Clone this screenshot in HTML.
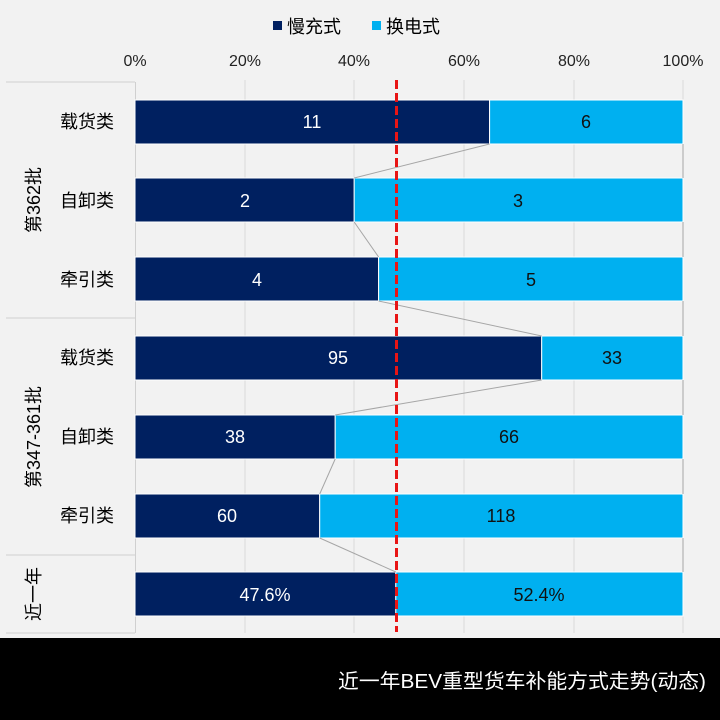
<!DOCTYPE html>
<html><head><meta charset="utf-8"><style>
html,body{margin:0;padding:0;background:#f2f2f2}
svg{display:block}
text{font-family:"Liberation Sans","Noto Sans CJK SC",sans-serif}
</style></head><body>
<svg width="720" height="720" viewBox="0 0 720 720">
<rect width="720" height="720" fill="#f2f2f2"/>
<rect x="273" y="21" width="9" height="9" fill="#002060"/>
<text x="287" y="33" font-size="18" fill="#000">慢充式</text>
<rect x="372" y="21" width="9" height="9" fill="#00b0f0"/>
<text x="386" y="33" font-size="18" fill="#000">换电式</text>
<g font-size="16" fill="#222" text-anchor="middle">
<text x="135" y="66">0%</text><text x="245" y="66">20%</text><text x="354" y="66">40%</text>
<text x="464" y="66">60%</text><text x="574" y="66">80%</text><text x="683" y="66">100%</text>
</g>
<g stroke="#d9d9d9" stroke-width="1">
<line x1="245" y1="80" x2="245" y2="633"/><line x1="354" y1="80" x2="354" y2="633"/>
<line x1="464" y1="80" x2="464" y2="633"/><line x1="574" y1="80" x2="574" y2="633"/>
<line x1="683" y1="80" x2="683" y2="633"/>
</g>
<g stroke="#d0d0d0" stroke-width="1">
<line x1="135.5" y1="82" x2="135.5" y2="633"/>
<line x1="6" y1="82" x2="135" y2="82"/>
<line x1="6" y1="318" x2="135" y2="318"/>
<line x1="6" y1="555" x2="135" y2="555"/>
<line x1="6" y1="633" x2="135" y2="633"/>
</g>
<g font-size="18" fill="#000" text-anchor="middle">
<text x="87" y="128">载货类</text><text x="87" y="207">自卸类</text><text x="87" y="286">牵引类</text>
<text x="87" y="364">载货类</text><text x="87" y="443">自卸类</text><text x="87" y="522">牵引类</text>
<text transform="translate(40,200) rotate(-90)">第362批</text>
<text transform="translate(40,437) rotate(-90)">第347-361批</text>
<text transform="translate(40,594) rotate(-90)">近一年</text>
</g>
<g stroke="#fff" stroke-width="1">
<rect x="135" y="100" width="354.6" height="44" fill="#002060"/><rect x="489.6" y="100" width="193.4" height="44" fill="#00b0f0"/>
<rect x="135" y="178" width="219.2" height="44" fill="#002060"/><rect x="354.2" y="178" width="328.8" height="44" fill="#00b0f0"/>
<rect x="135" y="257" width="243.6" height="44" fill="#002060"/><rect x="378.6" y="257" width="304.4" height="44" fill="#00b0f0"/>
<rect x="135" y="336" width="406.7" height="44" fill="#002060"/><rect x="541.7" y="336" width="141.3" height="44" fill="#00b0f0"/>
<rect x="135" y="415" width="200.2" height="44" fill="#002060"/><rect x="335.2" y="415" width="347.8" height="44" fill="#00b0f0"/>
<rect x="135" y="494" width="184.7" height="44" fill="#002060"/><rect x="319.7" y="494" width="363.3" height="44" fill="#00b0f0"/>
<rect x="135" y="572" width="260.8" height="44" fill="#002060"/><rect x="395.8" y="572" width="287.2" height="44" fill="#00b0f0"/>
</g>
<g stroke="#a6a6a6" stroke-width="1">
<line x1="489.6" y1="144" x2="354.2" y2="178"/><line x1="683" y1="144" x2="683" y2="178"/>
<line x1="354.2" y1="222" x2="378.6" y2="257"/><line x1="683" y1="222" x2="683" y2="257"/>
<line x1="378.6" y1="301" x2="541.7" y2="336"/><line x1="683" y1="301" x2="683" y2="336"/>
<line x1="541.7" y1="380" x2="335.2" y2="415"/><line x1="683" y1="380" x2="683" y2="415"/>
<line x1="335.2" y1="459" x2="319.7" y2="494"/><line x1="683" y1="459" x2="683" y2="494"/>
<line x1="319.7" y1="538" x2="395.8" y2="572"/><line x1="683" y1="538" x2="683" y2="572"/>
</g>
<g font-size="18" text-anchor="middle">
<g fill="#fff">
<text x="312" y="128">11</text><text x="245" y="207">2</text><text x="257" y="286">4</text>
<text x="338" y="364">95</text><text x="235" y="443">38</text><text x="227" y="522">60</text>
<text x="265" y="601">47.6%</text>
</g>
<g fill="#111">
<text x="586" y="128">6</text><text x="518" y="207">3</text><text x="531" y="286">5</text>
<text x="612" y="364">33</text><text x="509" y="443">66</text><text x="501" y="522">118</text>
<text x="539" y="601">52.4%</text>
</g>
</g>
<line x1="396.5" y1="80" x2="396.5" y2="632" stroke="#e81515" stroke-width="3" stroke-dasharray="9,4"/>
<rect x="0" y="638" width="720" height="82" fill="#000"/>
<text x="706" y="688" font-size="20" fill="#fff" text-anchor="end" textLength="368" lengthAdjust="spacingAndGlyphs">近一年BEV重型货车补能方式走势(动态)</text>
</svg>
</body></html>
